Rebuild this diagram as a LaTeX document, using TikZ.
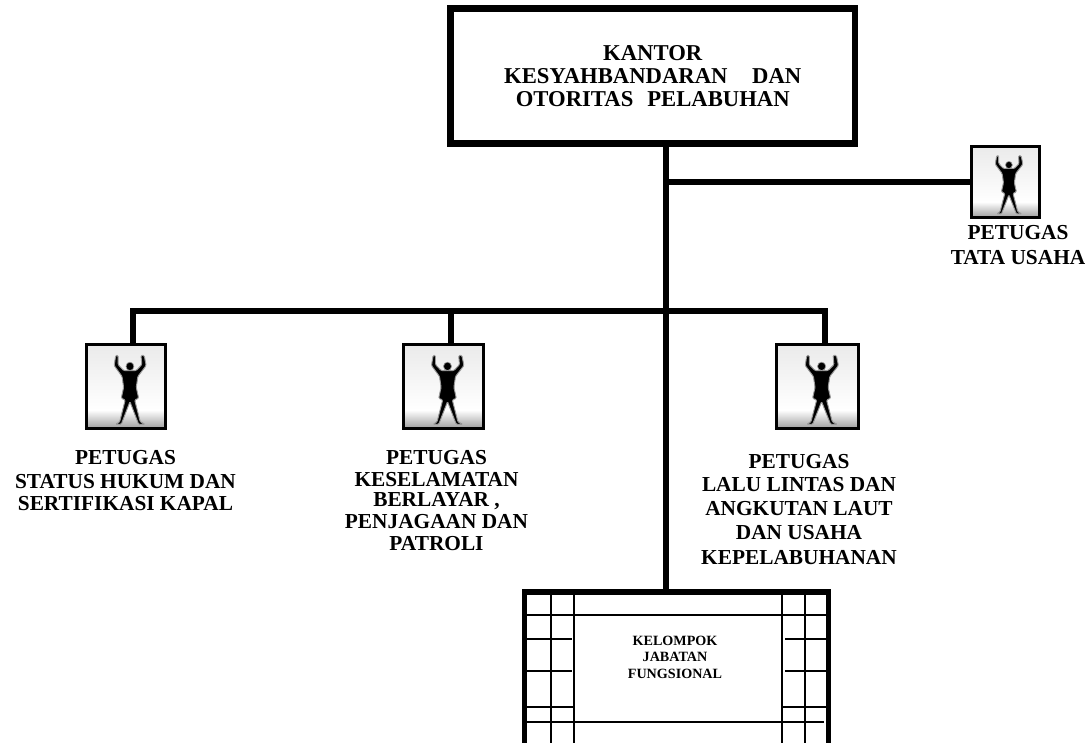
\documentclass[tikz,border=0pt]{standalone}
\usepackage{fontspec}
\setmainfont{Liberation Serif}
\newcommand{\lblhead}{\fontsize{17pt}{17.5pt}\selectfont\bfseries}
\newcommand{\lbl}{\fontsize{16pt}{15pt}\selectfont\bfseries}
\newcommand{\lblsmall}{\fontsize{10.6pt}{12.4pt}\selectfont\bfseries}
% #1 node name, #2 width in px, #3 height in px, #4 border width
\newcommand{\personicon}[4]{%
  \begin{scope}[shift={(#1.north west)},x=#2*0.75pt,y=-#3*0.75pt]
    \shade[top color=black!8,bottom color=white] (0,0) rectangle (1,.78);
    \shade[top color=white,bottom color=black!38] (0,.78) rectangle (1,1);
    \fill[black,draw=black!40,line width=.7pt,rounded corners=.8pt]
      (.37,.13) -- (.40,.13) -- (.40,.24) -- (.47,.31) -- (.63,.31) -- (.70,.24)
      -- (.69,.13) -- (.73,.13) -- (.755,.25) -- (.65,.38) -- (.63,.51) -- (.66,.64)
      -- (.61,.66) -- (.68,.92) -- (.74,.95) -- (.66,.95) -- (.55,.68)
      -- (.44,.95) -- (.37,.95) -- (.42,.92) -- (.49,.66) -- (.44,.64)
      -- (.47,.51) -- (.45,.38) -- (.35,.25) -- cycle;
    \fill[black,draw=black!40,line width=.5pt] (.55,.26) ellipse [x radius=.05,y radius=.05];
    \draw[black,line width=#4*0.75pt] (0,0) rectangle (1,1);
  \end{scope}}
\tikzset{
  main/.style={draw,line width=4.9pt,inner sep=0pt,outer sep=0pt,minimum width=404.5*0.75pt,minimum height=135*0.75pt,align=center},
  iconbox/.style={inner sep=0pt,outer sep=0pt},
  bus/.style={line width=4.4pt,line join=miter},
  txt/.style={align=center,inner sep=0pt,font=\lbl},
  thin/.style={line width=1.5pt},
  mid/.style={line width=2.1pt},
}
\begin{document}
\begin{tikzpicture}[x=0.75pt,y=-0.75pt]
\useasboundingbox (0,0) rectangle (1091,742);
\node[iconbox,minimum width=79*0.75pt,minimum height=84*0.75pt,anchor=north west] (p1) at (86.5,344.5) {};
\node[iconbox,minimum width=80*0.75pt,minimum height=84*0.75pt,anchor=north west] (p2) at (403.5,344.5) {};
\node[iconbox,minimum width=82*0.75pt,minimum height=84*0.75pt,anchor=north west] (p3) at (776.5,344.5) {};
\node[iconbox,minimum width=68*0.75pt,minimum height=71*0.75pt,anchor=north west] (p4) at (971.5,146.5) {};
\node[main,anchor=north west,font=\lblhead] (head) at (450.5,8.5) {KANTOR\\KESYAHBANDARAN\hspace{18.5pt}DAN\\OTORITAS\hspace{10.5pt}PELABUHAN};
\node[anchor=north,inner sep=0pt,outer sep=0pt] (fr) at (666,590) {};

\coordinate (jt) at (666,182);
\coordinate (a1) at (133,311);
\coordinate (a2) at (451,311);
\coordinate (a3) at (825,311);
\draw[bus] (head.south -| jt) -- (fr);
\draw[bus] (jt) -- (p4.west |- jt);
\draw[bus] (a1 |- p1.north) -- (a1) -- (a3) -- (a3 |- p3.north);
\draw[bus] (a2 |- p2.north) -- (a2);

\personicon{p1}{79}{84}{3}
\personicon{p2}{80}{84}{3}
\personicon{p3}{82}{84}{3}
\personicon{p4}{68}{71}{3}

\node[txt,anchor=north] (t4) at (1018,225) {PETUGAS\\[3.5pt]TATA USAHA};
\node[txt,anchor=north] (t1) at (125.5,450) {PETUGAS\\[3pt]STATUS HUKUM DAN\\[1.5pt]SERTIFIKASI KAPAL};
\node[txt,anchor=north] (t2) at (436.5,450) {PETUGAS\\[1.5pt]KESELAMATAN\\BERLAYAR ,\\[1.5pt]PENJAGAAN DAN\\[1.5pt]PATROLI};
\node[txt,anchor=north] (t3) at (799,454) {PETUGAS\\[2.5pt]LALU LINTAS DAN\\[3pt]ANGKUTAN LAUT\\[3pt]DAN USAHA\\[3.5pt]KEPELABUHANAN};

% functional group frame, running off the lower edge
\begin{scope}
\clip (0,0) rectangle (1091,742);
\draw[thin] (551,595) -- (551,745);
\draw[thin] (805,595) -- (805,745);
\draw[mid] (574,595) -- (574,745);
\draw[mid] (782,595) -- (782,745);
\draw[thin] (527,615) -- (826,615);
\draw[mid] (527,639) -- (572,639);
\draw[mid] (785,639) -- (826,639);
\draw[mid] (527,671) -- (572,671);
\draw[mid] (785,671) -- (826,671);
\draw[thin] (527,707) -- (574,707);
\draw[thin] (782,707) -- (826,707);
\draw[mid] (527,722) -- (824,722);
\draw[line width=4pt] (524.5,745) -- (524.5,592) -- (828.5,592) -- (828.5,745);
\end{scope}
\node[align=center,inner sep=0pt,font=\lblsmall] (t5) at (675,657) {KELOMPOK\\JABATAN\\FUNGSIONAL};
\end{tikzpicture}
\end{document}
